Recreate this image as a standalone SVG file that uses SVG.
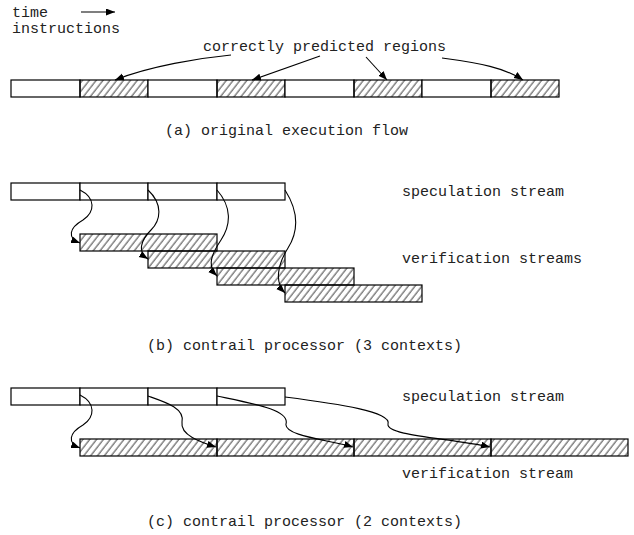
<svg xmlns="http://www.w3.org/2000/svg" width="634" height="535" viewBox="0 0 634 535">
<style>
text{font-family:"Liberation Mono","DejaVu Sans Mono",monospace;font-size:15px;fill:#222}
.box{fill:#fff;stroke:#000;stroke-width:1.2}
.hat{fill:url(#hatch);stroke:#000;stroke-width:1.2}
.con{fill:none;stroke:#000;stroke-width:1.1;marker-end:url(#ah)}
</style>
<defs>
<pattern id="hatch" patternUnits="userSpaceOnUse" width="5.4" height="8" patternTransform="rotate(38)">
<line x1="1" y1="0" x2="1" y2="8" stroke="#222" stroke-width="0.9"/>
</pattern>
<marker id="ah" markerUnits="userSpaceOnUse" markerWidth="10" markerHeight="8" refX="9" refY="3.5" orient="auto">
<path d="M0,0 L9,3.5 L0,7 z" fill="#000"/>
</marker>
</defs>
<rect width="634" height="535" fill="#fff"/>

<g id="legend">
<text x="12" y="17">time</text>
<text x="12" y="33">instructions</text>
<text x="203" y="51">correctly predicted regions</text>
</g>

<g id="flowA">
<rect class="box" x="11" y="80" width="69" height="17"/>
<rect class="hat" x="80" y="80" width="68" height="17"/>
<rect class="box" x="148" y="80" width="69" height="17"/>
<rect class="hat" x="217" y="80" width="68" height="17"/>
<rect class="box" x="285" y="80" width="69" height="17"/>
<rect class="hat" x="354" y="80" width="68" height="17"/>
<rect class="box" x="422" y="80" width="69" height="17"/>
<rect class="hat" x="491" y="80" width="68" height="17"/>
</g>
<text x="165" y="135">(a) original execution flow</text>

<g id="specB">
<rect class="box" x="11" y="183" width="69" height="17"/>
<rect class="box" x="80" y="183" width="68" height="17"/>
<rect class="box" x="148" y="183" width="69" height="17"/>
<rect class="box" x="217" y="183" width="68" height="17"/>
</g>
<g id="verB">
<rect class="hat" x="80" y="234" width="137" height="17"/>
<rect class="hat" x="148" y="251" width="137" height="17"/>
<rect class="hat" x="217" y="268" width="137" height="17"/>
<rect class="hat" x="285" y="285" width="137" height="17"/>
</g>
<text x="402" y="196">speculation stream</text>
<text x="402" y="263">verification streams</text>
<text x="147" y="350">(b) contrail processor (3 contexts)</text>

<g id="specC">
<rect class="box" x="11" y="388" width="69" height="17"/>
<rect class="box" x="80" y="388" width="68" height="17"/>
<rect class="box" x="148" y="388" width="69" height="17"/>
<rect class="box" x="217" y="388" width="68" height="17"/>
</g>
<g id="verC">
<rect class="hat" x="80" y="439" width="137" height="17"/>
<rect class="hat" x="217" y="439" width="137" height="17"/>
<rect class="hat" x="354" y="439" width="137" height="17"/>
<rect class="hat" x="491" y="439" width="137" height="17"/>
</g>
<text x="402" y="401">speculation stream</text>
<text x="402" y="478">verification stream</text>
<text x="147" y="526">(c) contrail processor (2 contexts)</text>

<g id="connectors">
<path class="con" d="M81,12 L115,12"/>
<path class="con" d="M231,55 C200,58 150,66 115,80"/>
<path class="con" d="M320,56 L252,80"/>
<path class="con" d="M366,57 L387,80"/>
<path class="con" d="M442,58 C480,63 505,68 523,80"/>

<path class="con" d="M80,190 C96,198 95,212 83,220 C69,228 67,238 80,243"/>
<path class="con" d="M148,190 C163,204 161,220 151,230 C141,240 137,252 148,259"/>
<path class="con" d="M217,190 C232,207 231,225 221,240 C211,255 207,266 217,276"/>
<path class="con" d="M285,190 C299,212 298,232 288,248 C278,264 274,282 285,293"/>

<path class="con" d="M80,395 C96,403 95,417 83,425 C69,433 67,443 80,448"/>
<path class="con" d="M148,396 C165,402 185,408 182,422 C180,435 200,442 216,447"/>
<path class="con" d="M217,396 C255,404 290,410 286,424 C284,436 330,440 353,447"/>
<path class="con" d="M285,397 C340,404 392,412 388,424 C386,436 450,438 490,447"/>
</g>
</svg>
